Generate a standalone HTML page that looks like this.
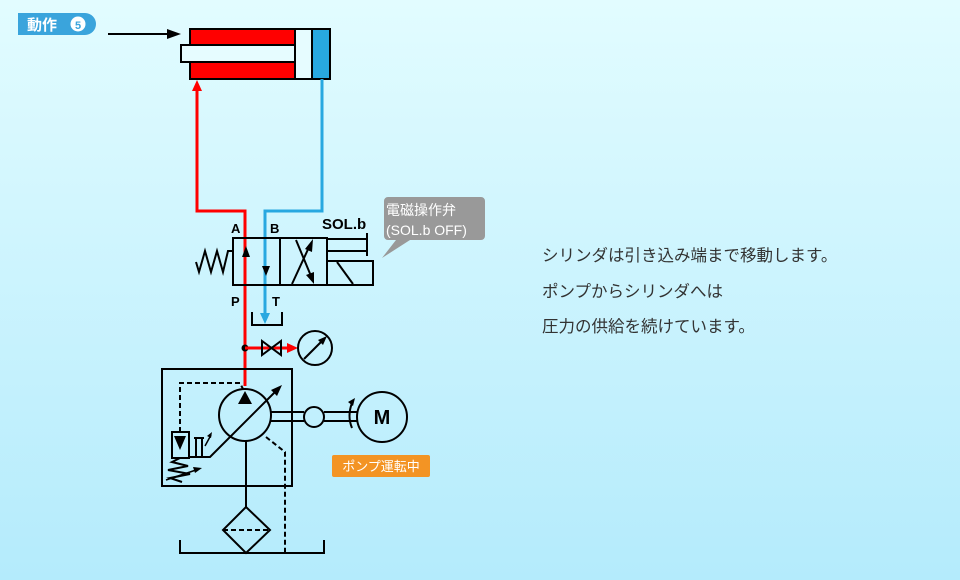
<!DOCTYPE html>
<html><head><meta charset="utf-8"><style>
html,body{margin:0;padding:0}
body{width:960px;height:580px;overflow:hidden;background:linear-gradient(#e2fcff,#b4ebfc)}
svg{display:block}
text{font-family:"Liberation Sans","Noto Sans CJK JP",sans-serif}
</style></head><body>
<svg width="960" height="580" viewBox="0 0 960 580">
<path d="M18 13 H85 A9 9 0 0 1 85 35 H18 Z" fill="#3aa4dc"/>
<text x="27" y="30" font-size="15" font-weight="bold" fill="#fff">動作</text>
<circle cx="78" cy="24" r="7.5" fill="#fff"/>
<text x="78" y="29" font-size="11" font-weight="bold" fill="#3aa4dc" text-anchor="middle">5</text>
<line x1="108" y1="34" x2="170" y2="34" stroke="#000" stroke-width="2"/>
<polygon points="181,34 167,29 167,39" fill="#000"/>
<rect x="190" y="29" width="140" height="50" fill="#ff0000" stroke="#000" stroke-width="2"/>
<rect x="295" y="29" width="17" height="50" fill="#e6fcff" stroke="#000" stroke-width="2"/>
<rect x="312" y="29" width="18" height="50" fill="#28a8e0" stroke="#000" stroke-width="2"/>
<rect x="181" y="45" width="114" height="17" fill="#e6fcff" stroke="#000" stroke-width="2"/>
<polyline points="245,386 245,211 197,211 197,90" fill="none" stroke="#ff0000" stroke-width="3"/>
<polygon points="197,80 192,91 202,91" fill="#ff0000"/>
<polyline points="322,79 322,211 265,211 265,315" fill="none" stroke="#28a8e0" stroke-width="3"/>
<polygon points="265,324 260,313 270,313" fill="#28a8e0"/>
<polyline points="252,312 252,325 282,325 282,312" fill="none" stroke="#000" stroke-width="2"/>
<rect x="233" y="238" width="94" height="47" fill="none" stroke="#000" stroke-width="2"/>
<line x1="280" y1="238" x2="280" y2="285" stroke="#000" stroke-width="2"/>
<line x1="327" y1="239" x2="367" y2="239" stroke="#000" stroke-width="2"/>
<line x1="327" y1="251" x2="367" y2="251" stroke="#000" stroke-width="2"/>
<line x1="367" y1="233" x2="367" y2="256" stroke="#000" stroke-width="2"/>
<rect x="327" y="261" width="46" height="24" fill="none" stroke="#000" stroke-width="2"/>
<line x1="337" y1="262" x2="353" y2="284" stroke="#000" stroke-width="2"/>
<polyline points="233,251 228,251 223,272 217,251 211,272 205,251 199,272 196,262" fill="none" stroke="#000" stroke-width="2"/>
<line x1="292" y1="284" x2="310" y2="245" stroke="#000" stroke-width="2"/>
<line x1="296" y1="240" x2="311" y2="276" stroke="#000" stroke-width="2"/>
<polygon points="313,239 305,249 312,252" fill="#000"/>
<polygon points="314,284 306,275 314,272" fill="#000"/>
<polygon points="246,246 242,257 250,257" fill="#000"/>
<polygon points="266,276 262,266 270,266" fill="#000"/>
<text x="231" y="233" font-size="13" font-weight="bold">A</text>
<text x="270" y="233" font-size="13" font-weight="bold">B</text>
<text x="231" y="306" font-size="13" font-weight="bold">P</text>
<text x="272" y="306" font-size="13" font-weight="bold">T</text>
<text x="322" y="229" font-size="15" font-weight="bold">SOL.b</text>
<path d="M388 197 H481 A4 4 0 0 1 485 201 V236 A4 4 0 0 1 481 240 H410 L382 258 L396 240 H388 A4 4 0 0 1 384 236 V201 A4 4 0 0 1 388 197 Z" fill="#999"/>
<text x="386" y="215" font-size="14" fill="#fff">電磁操作弁</text>
<text x="386" y="235" font-size="14" fill="#fff">(SOL.b OFF)</text>
<circle cx="245" cy="348" r="3.5" fill="#000"/>
<line x1="245" y1="348" x2="290" y2="348" stroke="#ff0000" stroke-width="3"/>
<polygon points="298,348 287,343 287,353" fill="#ff0000"/>
<polygon points="262,341 262,355 281,341 281,355" fill="none" stroke="#000" stroke-width="2"/>
<circle cx="315" cy="348" r="17" fill="none" stroke="#000" stroke-width="2"/>
<line x1="304" y1="359" x2="323" y2="340" stroke="#000" stroke-width="2"/>
<polygon points="327,336 318,340 323,345" fill="#000"/>
<rect x="162" y="369" width="130" height="117" fill="none" stroke="#000" stroke-width="2"/>
<circle cx="245" cy="415" r="26" fill="none" stroke="#000" stroke-width="2"/>
<polygon points="245,391 238,404 252,404" fill="#000"/>
<polyline points="190,457 210,457 278,389" fill="none" stroke="#000" stroke-width="2"/>
<polygon points="282,385 271,390 277,396" fill="#000"/>
<line x1="271" y1="412" x2="304" y2="412" stroke="#000" stroke-width="2"/>
<line x1="271" y1="421" x2="304" y2="421" stroke="#000" stroke-width="2"/>
<circle cx="314" cy="417" r="10" fill="none" stroke="#000" stroke-width="2"/>
<line x1="324" y1="412" x2="357" y2="412" stroke="#000" stroke-width="2"/>
<line x1="324" y1="421" x2="357" y2="421" stroke="#000" stroke-width="2"/>
<circle cx="382" cy="417" r="25" fill="none" stroke="#000" stroke-width="2"/>
<text x="382" y="424" font-size="20" font-weight="bold" text-anchor="middle">M</text>
<path d="M352 428 Q347 416 352 403" fill="none" stroke="#000" stroke-width="2"/>
<polygon points="355,398 348,402 353,406" fill="#000"/>
<rect x="172" y="432" width="17" height="26" fill="none" stroke="#000" stroke-width="2"/>
<polygon points="180,450 174,436 186,436" fill="#000"/>
<polyline points="180,432 180,383 240,383 243,389" fill="none" stroke="#000" stroke-width="2" stroke-dasharray="5,3"/>
<line x1="194" y1="438" x2="204" y2="438" stroke="#000" stroke-width="2"/>
<line x1="196" y1="438" x2="196" y2="457" stroke="#000" stroke-width="2"/>
<line x1="202" y1="438" x2="202" y2="457" stroke="#000" stroke-width="2"/>
<line x1="205" y1="446" x2="211" y2="435" stroke="#000" stroke-width="1.5"/>
<polygon points="212,432 207,436 211,438" fill="#000"/>
<polyline points="180,458 172,462 188,466 168,470 190,474 170,478 182,482" fill="none" stroke="#000" stroke-width="2"/>
<line x1="166" y1="480" x2="196" y2="470" stroke="#000" stroke-width="1.5"/>
<polygon points="202,468 193,467 195,473" fill="#000"/>
<polyline points="266,437 285,452 285,553" fill="none" stroke="#000" stroke-width="2" stroke-dasharray="5,3"/>
<line x1="246" y1="441" x2="246" y2="507" stroke="#000" stroke-width="2"/>
<polygon points="246,507 270,530 246,553 223,530" fill="none" stroke="#000" stroke-width="2"/>
<line x1="223" y1="530" x2="270" y2="530" stroke="#000" stroke-width="2" stroke-dasharray="5,3"/>
<polyline points="180,540 180,553 324,553 324,540" fill="none" stroke="#000" stroke-width="2"/>
<rect x="332" y="455" width="98" height="22" rx="2" fill="#f39424"/>
<text x="381" y="471" font-size="13" fill="#fff" text-anchor="middle">ポンプ運転中</text>
<g font-size="16.5" fill="#333">
<text x="542" y="261">シリンダは引き込み端まで移動します。</text>
<text x="542" y="297">ポンプからシリンダへは</text>
<text x="542" y="332">圧力の供給を続けています。</text>
</g>
</svg>
</body></html>
